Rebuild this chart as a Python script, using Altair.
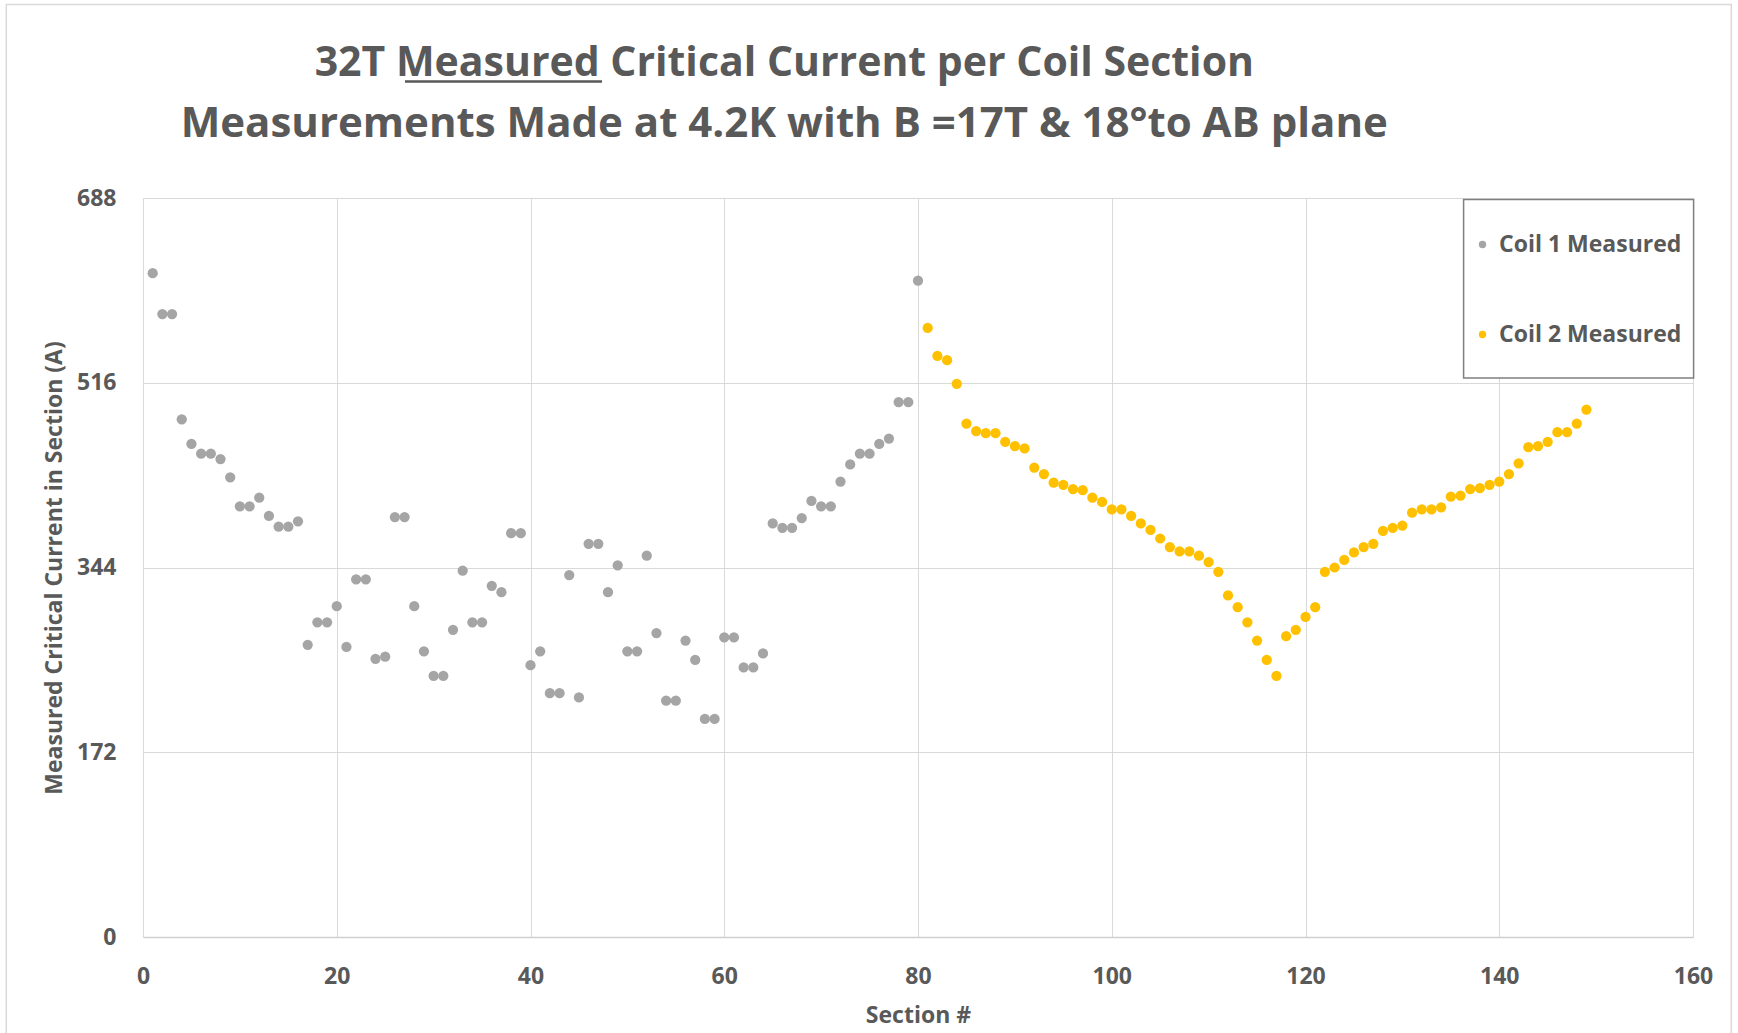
import altair as alt
import pandas as pd

# ---------------- data ----------------
coil1_sections = list(range(1, 81))
coil1_current = [
    618, 580, 580, 482, 459, 450, 450, 445, 428, 401,
    401, 409, 392, 382, 382, 387, 272, 293, 293, 308,
    270, 333, 333, 259, 261, 391, 391, 308, 266, 243,
    243, 286, 341, 293, 293, 327, 321, 376, 376, 253,
    266, 227, 227, 337, 223, 366, 366, 321, 346, 266,
    266, 355, 283, 220, 220, 276, 258, 203, 203, 279,
    279, 251, 251, 264, 385, 381, 381, 390, 406, 401,
    401, 424, 440, 450, 450, 459, 464, 498, 498, 611,
]
coil2_sections = list(range(81, 150))
coil2_current = [
    567, 541, 537, 515, 478, 471, 469, 469, 461, 457,
    455, 437, 431, 423, 421, 417, 416, 409, 405, 398,
    398, 392, 385, 379, 371, 363, 359, 359, 355, 349,
    340, 318, 307, 293, 276, 258, 243, 280, 286, 298,
    307, 340, 344, 351, 358, 363, 366, 378, 381, 383,
    395, 398, 398, 400, 410, 411, 417, 418, 421, 424,
    431, 441, 456, 457, 461, 470, 470, 478, 491,
]
series_names = ["Coil 1 Measured", "Coil 2 Measured"]
series_colors = ["#A5A5A5", "#FFC000"]
x_ticks = [0, 20, 40, 60, 80, 100, 120, 140, 160]
y_ticks = [0, 172, 344, 516, 688]
title_line1 = "32T Measured Critical Current per Coil Section"
title_line2 = "Measurements Made at 4.2K with B =17T & 18\u00b0to  AB plane"
x_title = "Section #"
y_title = "Measured Critical Current in Section (A)"

df = pd.DataFrame({
    "section": coil1_sections + coil2_sections,
    "current": coil1_current + coil2_current,
    "series": [series_names[0]] * len(coil1_sections)
    + [series_names[1]] * len(coil2_sections),
})

FONT = "Open Sans"
TXT = "#595959"
GRID = "#D9D9D9"

anno = alt.Data(values=[{"k": 0}])

points = alt.Chart(df).mark_circle(size=105, opacity=1).encode(
    x=alt.X(
        "section:Q",
        scale=alt.Scale(domain=[0, 160], nice=False),
        axis=alt.Axis(
            values=x_ticks, title=x_title, grid=True, gridColor=GRID,
            ticks=False, domain=True, domainColor="#D0D0D0", domainWidth=1.5,
            labelFont=FONT, labelFontSize=23, labelFontWeight="bold",
            labelColor=TXT, labelPadding=28, labelFlush=False,
            titleFont=FONT, titleFontSize=23, titleFontWeight="bold",
            titleColor=TXT, titlePadding=16,
        ),
    ),
    y=alt.Y(
        "current:Q",
        scale=alt.Scale(domain=[0, 688], nice=False),
        axis=alt.Axis(
            values=y_ticks, title=y_title, grid=True, gridColor=GRID,
            ticks=False, domain=False,
            labelFont=FONT, labelFontSize=23, labelFontWeight="bold",
            labelColor=TXT, labelPadding=27, labelFlush=False,
            titleFont=FONT, titleFontSize=23, titleFontWeight="bold",
            titleColor=TXT, titlePadding=10,
        ),
    ),
    color=alt.Color(
        "series:N",
        scale=alt.Scale(domain=series_names, range=series_colors),
        legend=alt.Legend(
            title=None, orient="none", legendX=1328, legendY=35,
            symbolType="circle", symbolSize=55, symbolStrokeWidth=0,
            labelFont=FONT, labelFontSize=23, labelFontWeight="bold",
            labelColor=TXT, labelOffset=5, labelLimit=400,
            rowPadding=66, padding=0,
        ),
    ),
)

outer_border = alt.Chart(anno).mark_rect(
    fillOpacity=0, stroke="#D9D9D9", strokeWidth=1.5
).encode(
    x=alt.value(-136.7), x2=alt.value(1588.3),
    y=alt.value(-193.4), y2=alt.value(860),
)

legend_box = alt.Chart(anno).mark_rect(
    fill="white", stroke="#7F7F7F", strokeWidth=1.5
).encode(
    x=alt.value(1320.6), x2=alt.value(1550.6),
    y=alt.value(1.6), y2=alt.value(179.9),
)

title1 = alt.Chart(anno).mark_text(
    text=title_line1, font=FONT, fontSize=41, fontWeight="bold",
    color=TXT, align="center", baseline="alphabetic",
).encode(x=alt.value(641.3), y=alt.value(-121.7))

underline = alt.Chart(anno).mark_rule(color=TXT, strokeWidth=2.5).encode(
    x=alt.value(262), x2=alt.value(459), y=alt.value(-116.5)
)

title2 = alt.Chart(anno).mark_text(
    text=title_line2, font=FONT, fontSize=42, fontWeight="bold",
    color=TXT, align="center", baseline="alphabetic",
).encode(x=alt.value(641.3), y=alt.value(-60.7))

chart = alt.layer(
    outer_border, legend_box, points, title1, underline, title2
).properties(
    width=1550, height=739,
    padding={"left": 143, "top": 198, "right": 45, "bottom": 96},
    autosize=alt.AutoSizeParams(type="none"),
    background="white",
).configure_view(stroke="transparent")

chart.save("out.html", embed_options={"renderer": "svg", "actions": False})
